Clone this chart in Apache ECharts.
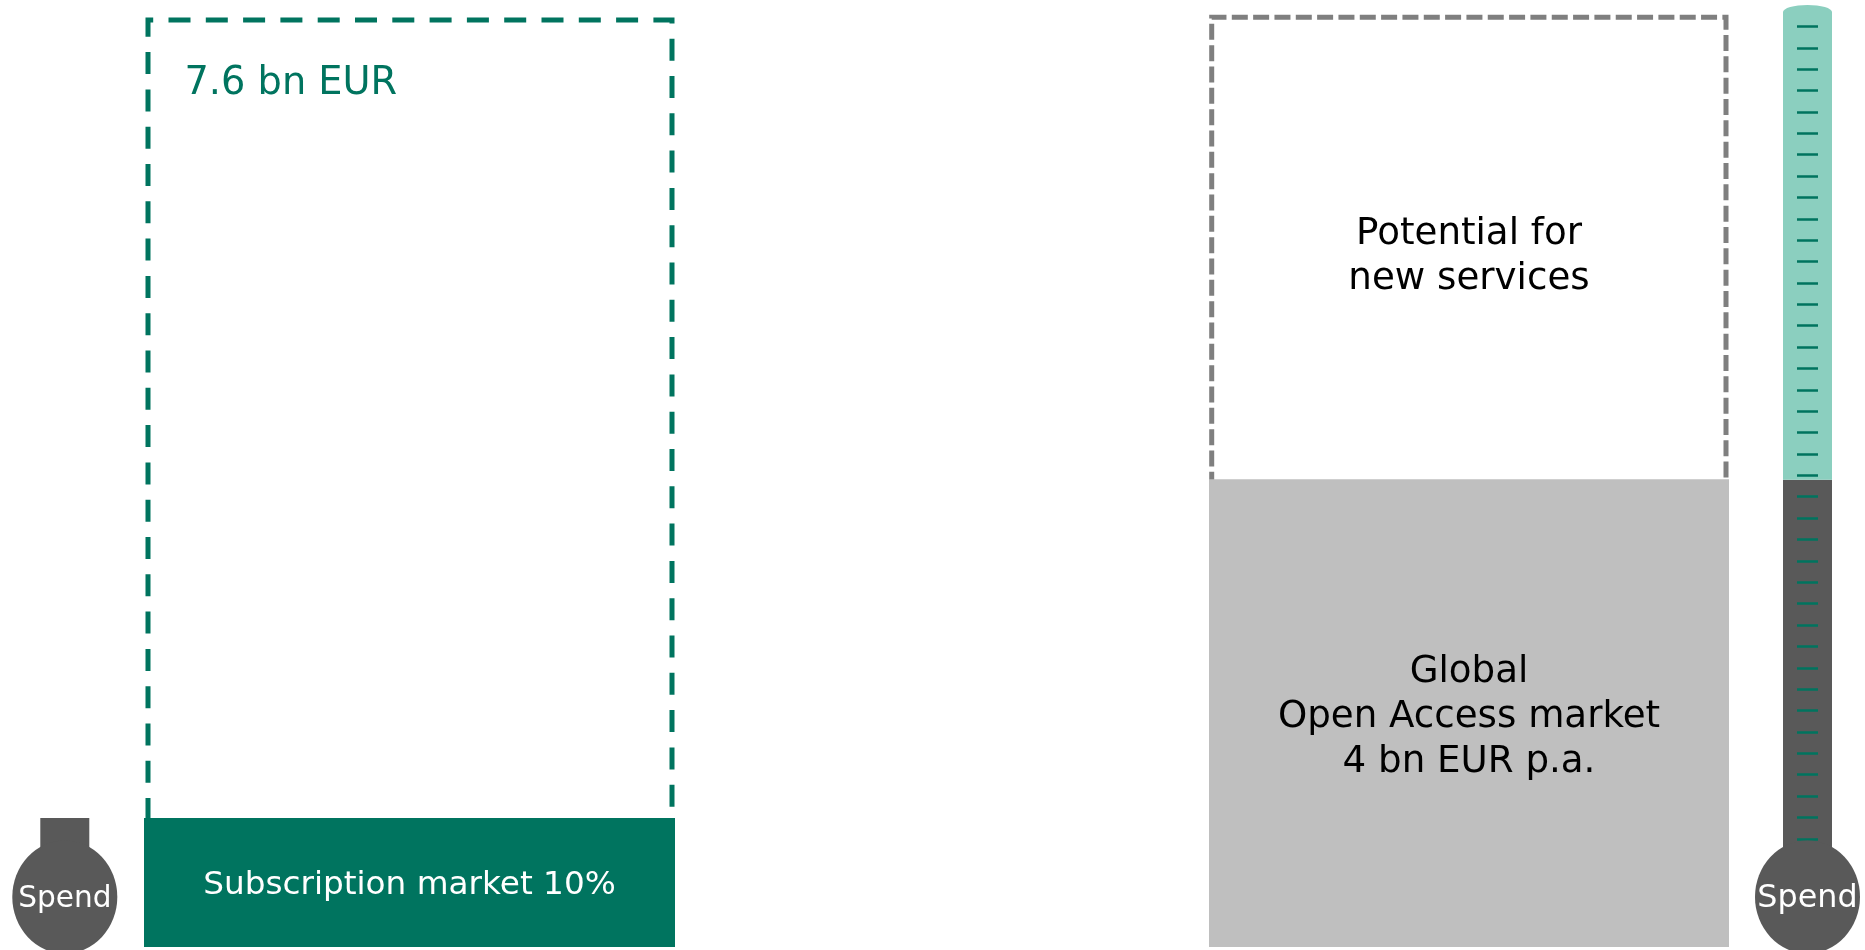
<!DOCTYPE html>
<html>
<head>
<meta charset="utf-8">
<style>
  html, body { margin: 0; padding: 0; background: #fff; }
  #chart { width: 1865px; height: 950px; }
</style>
<script src="https://cdn.jsdelivr.net/npm/echarts@6/dist/echarts.min.js"></script>
</head>
<body>
<div id="chart"></div>
<script>
// left panel, bn EUR
var subscriptionLabel = ['Subscription market 10%'];
var subscriptionValue = [1.057];
var subscriptionTotal = [7.6];
var subscriptionTotalLabel = '7.6 bn EUR';

// right panel, bn EUR
var openAccessLabel = ['Global\nOpen Access market\n4 bn EUR p.a.'];
var openAccessValue = [4];
var potentialLabel = ['Potential for\nnew services'];
var potentialValue = [3.95];
var openAccessTotal = [7.95];

// thermometers, in tick units
var thermoTicks = [1, 2, 3, 4, 5, 6, 7, 8, 9, 10, 11, 12, 13, 14, 15, 16, 17, 18, 19, 20,
  21, 22, 23, 24, 25, 26, 27, 28, 29, 30, 31, 32, 33, 34, 35, 36, 37, 38, 39];
var leftSpend = [1.97];
var rightSpend = [17.8];
var rightHeadroom = [21.87];
var tubeTop = [39.67];
var bulbLevel = [-1.72];
var bulbLabel = 'Spend';

var GREEN = '#00745f', TEAL = '#8bcfbf', DARK = '#595959', GREY = '#bfbfbf', DASH = '#7f7f7f';
var FONT = '"DejaVu Sans", Verdana, sans-serif';
var ELLIPSE = 'path://M0,50 a50,50 0 1,0 100,0 a50,50 0 1,0 -100,0z';

var chart = echarts.init(document.getElementById('chart'));

// echarts pulls a bar's border inside its rect, so the outline grids are half a border larger
var grids = [
  { left: 12.3, width: 105, top: 5, height: 945 },     // left thermometer
  { left: 144, width: 531, top: 20, height: 927 },     // subscription bar
  { left: 145.5, width: 529, top: 17.5, height: 929.5 }, // subscription outline
  { left: 1209, width: 520, top: 17.3, height: 929.7 }, // open access bar
  { left: 1209.2, width: 519.3, top: 14.8, height: 932.2 }, // open access outline
  { left: 1755, width: 105, top: 5, height: 945 }      // right thermometer
];

var xAxes = grids.map(function (g, i) {
  return { gridIndex: i, type: 'category', show: false, data: [''] };
});

var yAxes = [
  { gridIndex: 0, type: 'value', show: false, min: -4.2, max: 40 },
  { gridIndex: 1, type: 'value', show: false, min: 0, max: 7.6 },
  { gridIndex: 2, type: 'value', show: false, min: 0, max: 7.6 },
  { gridIndex: 3, type: 'value', show: false, min: 0, max: 7.95 },
  { gridIndex: 4, type: 'value', show: false, min: 0, max: 7.95 },
  {
    gridIndex: 5, type: 'value', min: -4.2, max: 40, position: 'left', offset: -63, z: 5,
    axisLine: { show: false },
    axisLabel: { show: false },
    splitLine: { show: false },
    axisTick: { show: true, length: 21, customValues: thermoTicks, lineStyle: { color: GREEN, width: 2.5 } }
  }
];

function bar(i, data, color, extra) {
  return Object.assign({
    type: 'bar', xAxisIndex: i, yAxisIndex: i, data: data, barWidth: '100%',
    silent: true, animation: false,
    itemStyle: { color: color }
  }, extra || {});
}

function text(size, color, extra) {
  return Object.assign({
    show: true, position: 'inside', fontFamily: FONT, fontSize: size, color: color,
    formatter: function (p) { return p.name; }
  }, extra || {});
}

function named(labels, values) {
  return values.map(function (v, i) { return { name: labels[i], value: v }; });
}

function bulb(i, size) {
  return {
    type: 'scatter', xAxisIndex: i, yAxisIndex: i, data: bulbLevel, symbol: ELLIPSE, symbolSize: [105, 113],
    silent: true, animation: false, z: 6,
    itemStyle: { color: DARK, opacity: 1 },
    label: { show: true, position: 'inside', offset: [0, 2], formatter: bulbLabel, fontFamily: FONT, fontSize: size, color: '#fff' }
  };
}

var series = [
  bar(0, leftSpend, DARK, { barWidth: 49 }),
  bulb(0, 29.6),

  bar(2, subscriptionTotal, 'transparent', {
    z: 1,
    itemStyle: { color: 'transparent', borderColor: GREEN, borderWidth: 5, borderType: [22, 15.3], borderDashOffset: 9.6 },
    label: { show: true, position: 'insideTopLeft', distance: 0, offset: [39, 48], formatter: subscriptionTotalLabel, fontFamily: FONT, fontSize: 38.3, color: GREEN }
  }),
  bar(1, named(subscriptionLabel, subscriptionValue), GREEN, { z: 2, label: text(32.7, '#fff', { offset: [0, 3] }) }),

  bar(4, openAccessTotal, 'transparent', {
    z: 1,
    itemStyle: { color: 'transparent', borderColor: DASH, borderWidth: 5, borderType: [16, 5.33] }
  }),
  bar(3, named(openAccessLabel, openAccessValue), GREY, { z: 2, stack: 'market', label: text(37.2, '#000', { lineHeight: 45, offset: [0, 4] }) }),
  bar(3, named(potentialLabel, potentialValue), 'transparent', { z: 2, stack: 'market', label: text(37.2, '#000', { lineHeight: 45, offset: [0, 9] }) }),

  bar(5, rightSpend, DARK, { barWidth: 49, stack: 'tube' }),
  bar(5, rightHeadroom, TEAL, { barWidth: 49, stack: 'tube' }),
  {
    type: 'scatter', xAxisIndex: 5, yAxisIndex: 5, data: tubeTop,
    symbol: ELLIPSE, symbolSize: [49, 14],
    silent: true, animation: false, z: 1,
    itemStyle: { color: TEAL, opacity: 1 }
  },
  bulb(5, 31.8)
];

chart.setOption({
  animation: false,
  backgroundColor: '#fff',
  grid: grids,
  xAxis: xAxes,
  yAxis: yAxes,
  series: series
});
</script>
</body>
</html>
